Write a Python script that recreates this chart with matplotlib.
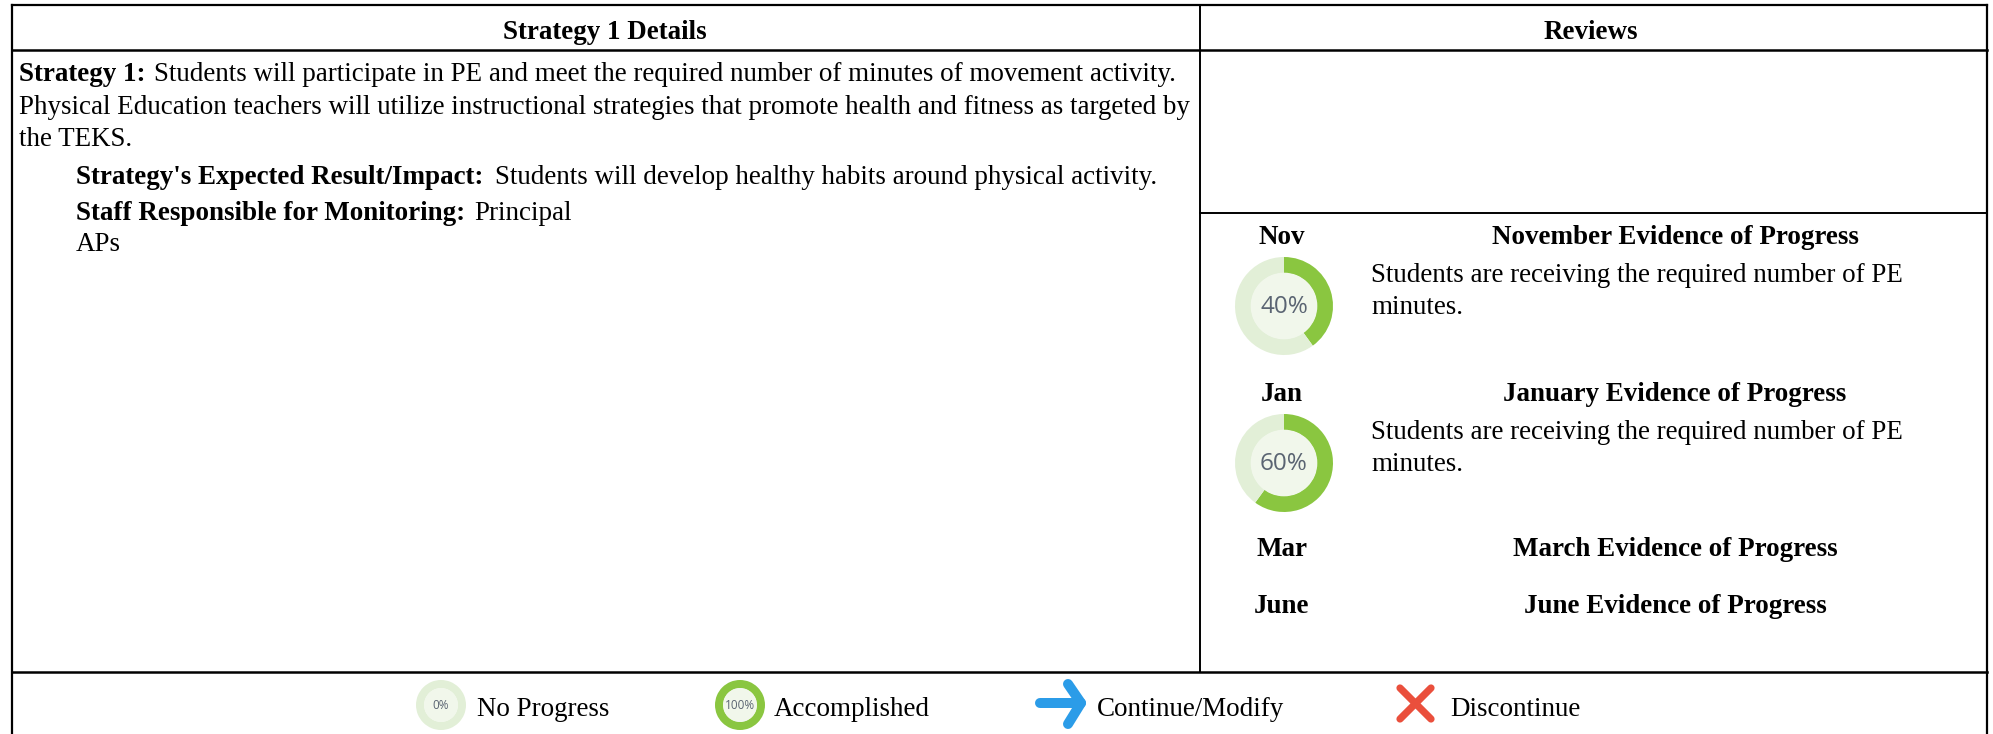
#!/usr/bin/env python3

import matplotlib
matplotlib.use('Agg')
import matplotlib.pyplot as plt

W, H = 1993, 734
FONT = 'Liberation Serif'
SIZE = 19.45

GREEN = '#8AC640'
LIGHT = '#E2EFD7'
INNER = '#F1F7EB'
BLUE = '#2B9CE8'
RED = '#EA4F3C'

headers = ['Strategy 1 Details', 'Reviews']
strategy_lines = [
    'Students will participate in PE and meet the required number of minutes of movement activity.',
    'Physical Education teachers will utilize instructional strategies that promote health and fitness as targeted by',
    'the TEKS.',
]
impact = 'Students will develop healthy habits around physical activity.'
staff = ['Principal', 'APs']

months = ['Nov', 'Jan', 'Mar', 'June']
evidence_titles = ['November Evidence of Progress', 'January Evidence of Progress',
                   'March Evidence of Progress', 'June Evidence of Progress']
evidence_text = ['Students are receiving the required number of PE', 'minutes.']
progress = [40, 60]
legend_labels = ['No Progress', 'Accomplished', 'Continue/Modify', 'Discontinue']
legend_progress = [0, 100]

fig = plt.figure(figsize=(W / 100, H / 100), dpi=100)
ax = fig.add_axes([0, 0, 1, 1])
ax.set_xlim(0, W)
ax.set_ylim(H, 0)
ax.axis('off')


def txt(x, y, s, bold=False, ha='left', size=SIZE):
    return ax.text(x, y, s, family=FONT, fontsize=size, ha=ha, va='baseline',
                   weight='bold' if bold else 'normal', color='black')


def bold_then_plain(x, y, label, rest, gap=8):
    t = txt(x, y, label, bold=True)
    box = t.get_window_extent(fig.canvas.get_renderer())
    txt(box.x1 + gap, y, rest)


def donut(cx, cy, r, pct, label, size):
    a = fig.add_axes([(cx - r) / W, 1 - (cy + r) / H, 2 * r / W, 2 * r / H])
    a.pie([pct, 100 - pct], colors=[GREEN, LIGHT], startangle=90, counterclock=False,
          radius=1, wedgeprops={'width': 0.33, 'linewidth': 0})
    a.pie([1], colors=[INNER], radius=0.68, wedgeprops={'linewidth': 0})
    a.set_xlim(-1, 1)
    a.set_ylim(-1, 1)
    a.text(0, -0.03, label, ha='center', va='center', fontsize=size,
           family='Open Sans', color='#5A6472')


# table rules
LEFT, RIGHT = 12, 1987
for x0, y0, x1, y1, lw in [(LEFT, 5, RIGHT, 5, 1.6), (LEFT, 50, RIGHT, 50, 1.8),
                           (LEFT, 672, RIGHT, 672, 1.8), (LEFT, 5, LEFT, 734, 1.6),
                           (RIGHT, 5, RIGHT, 734, 1.6), (1200, 5, 1200, 672, 1.4),
                           (1200, 213, RIGHT, 213, 1.4)]:
    ax.plot([x0, x1], [y0, y1], color='black', lw=lw, solid_capstyle='projecting')

txt(605, 39, headers[0], bold=True, ha='center')
txt(1591, 39, headers[1], bold=True, ha='center')

bold_then_plain(19, 81, 'Strategy 1:', strategy_lines[0], gap=9)
txt(19, 114, strategy_lines[1])
txt(19, 146, strategy_lines[2])
bold_then_plain(76, 184, "Strategy's Expected Result/Impact:", impact, gap=12)
bold_then_plain(76, 220, 'Staff Responsible for Monitoring:', staff[0], gap=9)
txt(76, 251, staff[1])

month_y = [244, 401, 556, 613]
for m, title, y in zip(months, evidence_titles, month_y):
    txt(1282, y, m, bold=True, ha='center')
    txt(1675, y, title, bold=True, ha='center')

for y0 in [282, 439]:
    txt(1371, y0, evidence_text[0])
    txt(1371, y0 + 32, evidence_text[1])

for pct, cy in zip(progress, [306, 463]):
    donut(1284, cy, 49, pct, f'{pct}%', 17.5)

# legend row
donut(441, 705, 25, legend_progress[0], f'{legend_progress[0]}%', 8.5)
donut(740, 705, 25, legend_progress[1], f'{legend_progress[1]}%', 8.5)

ax.plot([1040, 1081], [703, 703], color=BLUE, lw=7.2, solid_capstyle='round')
ax.plot([1068, 1081, 1068], [684, 703, 724], color=BLUE, lw=7.2,
        solid_capstyle='round', solid_joinstyle='round')
ax.plot([1400, 1431], [688, 719], color=RED, lw=5.2, solid_capstyle='round')
ax.plot([1431, 1400], [688, 719], color=RED, lw=5.2, solid_capstyle='round')

for x, s in zip([477, 774, 1097, 1450], legend_labels):
    txt(x, 716, s)

fig.savefig('out.png', dpi=100)
